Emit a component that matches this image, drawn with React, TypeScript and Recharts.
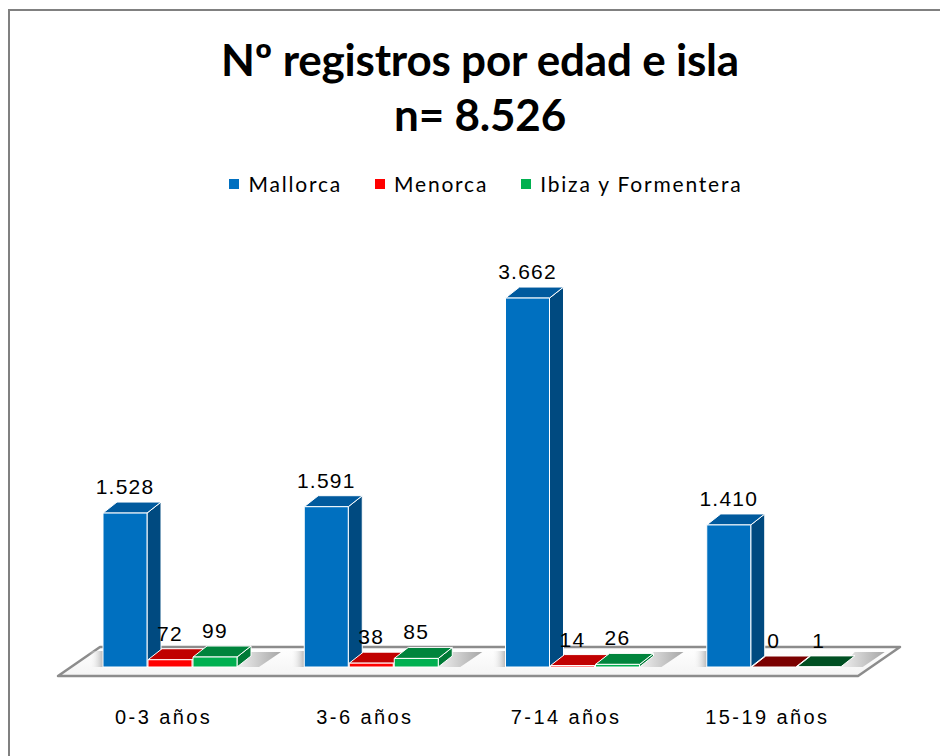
import React from 'react'
import { BarChart, Bar, XAxis, YAxis, LabelList } from 'recharts'

const categories = ['0-3 años', '3-6 años', '7-14 años', '15-19 años']
const mallorca = [1528, 1591, 3662, 1410]
const menorca = [72, 38, 14, 0]
const ibiza = [99, 85, 26, 1]

const seriesNames = ['Mallorca', 'Menorca', 'Ibiza y Formentera']

// front / side / top / top when flat
const PALETTE: Record<string, string[]> = {
  mallorca: ['#0070c0', '#004a80', '#005a9e', '#003c6a'],
  menorca: ['#ff0000', '#a00000', '#c00000', '#7a0000'],
  ibiza: ['#00b050', '#007a36', '#00843c', '#004f22'],
}

const DX = 14
const DY = 11

const chartData = categories.map((name, i) => ({
  name,
  mallorca: mallorca[i],
  menorca: menorca[i],
  ibiza: ibiza[i],
}))

const fmt = (v: number) => String(v).replace(/\B(?=(\d{3})+(?!\d))/g, '.')

function make3D(key: string) {
  const [front, side, top, flat] = PALETTE[key]
  return (props: any) => {
    const { x, y, width, height } = props
    const h = Math.max(height || 0, 0)
    const base = y + h
    const topColor = h < 1 ? flat : top
    return (
      <g>
        {/* soft floor shadows */}
        {key === 'mallorca' && (
          <rect x={x - 14} y={base - 16} width={14} height={16} fill="url(#shadowL)" />
        )}
        {key === 'ibiza' && (
          <polygon
            points={`${x + width},${base} ${x + width + DX},${base - DY - 4} ${x + width + DX + 30},${base - DY - 4} ${x + width + 22},${base}`}
            fill="url(#shadowR)"
          />
        )}
        <g stroke="#ffffff" strokeWidth={1} strokeLinejoin="round">
          <polygon
            points={`${x + width},${y} ${x + width + DX},${y - DY} ${x + width + DX},${base - DY} ${x + width},${base}`}
            fill={side}
          />
          <polygon
            points={`${x},${y} ${x + DX},${y - DY} ${x + width + DX},${y - DY} ${x + width},${y}`}
            fill={topColor}
          />
          {h > 0 && <rect x={x} y={y} width={width} height={h} fill={front} />}
        </g>
      </g>
    )
  }
}

const ValueLabel = (props: any) => {
  const { x, y, width, value } = props
  return (
    <text
      x={x + width / 2}
      y={y - 19}
      textAnchor="middle"
      fontFamily="Liberation Sans, sans-serif"
      fontSize={21}
      letterSpacing={1.2}
      fill="#000"
    >
      {fmt(value)}
    </text>
  )
}

const CategoryTick = (props: any) => {
  const { x, y, payload } = props
  return (
    <text
      x={x - 6}
      y={y + 57}
      textAnchor="middle"
      fontFamily="Liberation Sans, sans-serif"
      fontSize={20}
      letterSpacing={2.4}
      fill="#000"
    >
      {payload.value}
    </text>
  )
}

const LegendBox = () => {
  const colors = [PALETTE.mallorca[0], PALETTE.menorca[0], PALETTE.ibiza[0]]
  return (
    <div
      style={{
        position: 'absolute',
        left: 16,
        top: 171,
        width: 940,
        display: 'flex',
        justifyContent: 'center',
        gap: 33,
        fontFamily: 'Lato, sans-serif',
        fontSize: 21,
        letterSpacing: 1.8,
        color: '#000',
      }}
    >
      {seriesNames.map((n, i) => (
        <div key={n} style={{ display: 'flex', alignItems: 'center', gap: 9 }}>
          <div style={{ width: 10, height: 10, background: colors[i] }} />
          <span>{n}</span>
        </div>
      ))}
    </div>
  )
}

export default function App() {
  return (
    <div style={{ position: 'absolute', left: 0, top: 0, width: 940, height: 756, background: '#fff', overflow: 'hidden' }}>
      <div style={{ position: 'absolute', left: 8, top: 9, right: 0, bottom: 0, borderTop: '2px solid #808080', borderLeft: '2px solid #808080' }} />
      <svg width={940} height={756} style={{ position: 'absolute', left: 0, top: 0 }}>
        <defs>
          <linearGradient id="floorGrad" x1="0" y1="0" x2="0" y2="1">
            <stop offset="0" stopColor="#ffffff" />
            <stop offset="1" stopColor="#f4f4f4" />
          </linearGradient>
        </defs>
        <polygon points="100,647 900,647 858,676 58,676" fill="url(#floorGrad)" stroke="#8c8c8c" strokeWidth={2.5} strokeLinejoin="round" />
      </svg>
      <div
        style={{
          position: 'absolute',
          left: 10,
          top: 32,
          width: 940,
          textAlign: 'center',
          fontFamily: 'Lato, sans-serif',
          fontWeight: 700,
          fontSize: 44,
          letterSpacing: -0.2,
          lineHeight: '55px',
          color: '#000',
        }}
      >
        <div>Nº registros por edad e isla</div>
        <div>n= 8.526</div>
      </div>
      <LegendBox />
      <div style={{ position: 'absolute', left: 0, top: 0 }}>
        <BarChart
          width={940}
          height={756}
          data={chartData}
          margin={{ top: 264, right: 66, bottom: 59, left: 69 }}
          barSize={44}
          barGap={1}
        >
          <defs>
            <linearGradient id="shadowL" x1="0" y1="0" x2="1" y2="0">
              <stop offset="0" stopColor="#ffffff" stopOpacity={0} />
              <stop offset="1" stopColor="#b8b8b8" />
            </linearGradient>
            <linearGradient id="shadowR" x1="0" y1="0" x2="1" y2="0">
              <stop offset="0" stopColor="#f0f0f0" />
              <stop offset="1" stopColor="#a6a6a6" />
            </linearGradient>
          </defs>
          <XAxis dataKey="name" height={30} axisLine={false} tickLine={false} tickSize={0} tickMargin={0} tick={<CategoryTick />} interval={0} />
          <YAxis hide width={0} domain={[0, 4000]} />
          <Bar dataKey="mallorca" name="Mallorca" fill={PALETTE.mallorca[0]} shape={make3D('mallorca')} isAnimationActive={false}>
            <LabelList dataKey="mallorca" content={<ValueLabel />} />
          </Bar>
          <Bar dataKey="menorca" name="Menorca" fill={PALETTE.menorca[0]} shape={make3D('menorca')} isAnimationActive={false}>
            <LabelList dataKey="menorca" content={<ValueLabel />} />
          </Bar>
          <Bar dataKey="ibiza" name="Ibiza y Formentera" fill={PALETTE.ibiza[0]} shape={make3D('ibiza')} isAnimationActive={false}>
            <LabelList dataKey="ibiza" content={<ValueLabel />} />
          </Bar>
        </BarChart>
      </div>
    </div>
  )
}
